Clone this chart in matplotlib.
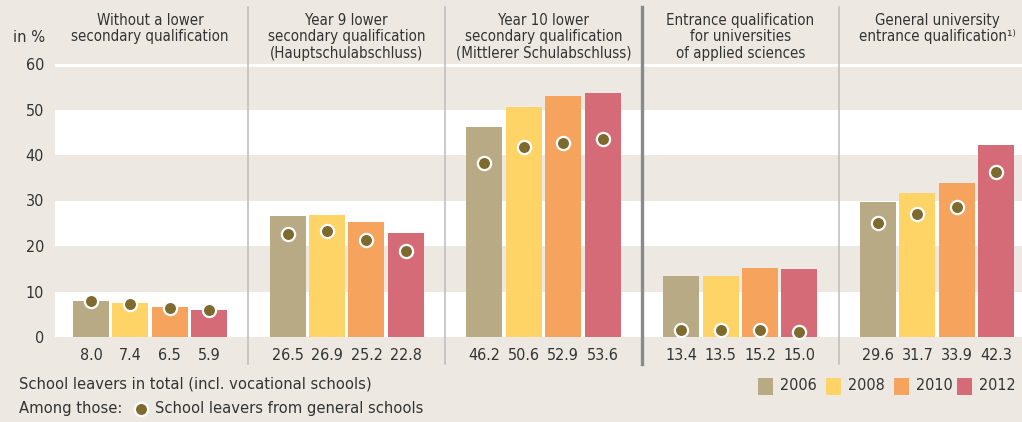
import matplotlib
matplotlib.use("Agg")
import matplotlib.pyplot as plt
from matplotlib.patches import Rectangle
from matplotlib.lines import Line2D

# ---- data
groups = [
    "Without a lower\nsecondary qualification",
    "Year 9 lower\nsecondary qualification\n(Hauptschulabschluss)",
    "Year 10 lower\nsecondary qualification\n(Mittlerer Schulabschluss)",
    "Entrance qualification\nfor universities\nof applied sciences",
    "General university\nentrance qualification\u00b9\u207e",
]
years = ["2006", "2008", "2010", "2012"]
total = [
    [8.0, 7.4, 6.5, 5.9],
    [26.5, 26.9, 25.2, 22.8],
    [46.2, 50.6, 52.9, 53.6],
    [13.4, 13.5, 15.2, 15.0],
    [29.6, 31.7, 33.9, 42.3],
]
general = [
    [7.9, 7.3, 6.4, 5.9],
    [22.6, 23.3, 21.3, 18.8],
    [38.2, 41.8, 42.6, 43.5],
    [1.6, 1.5, 1.6, 1.2],
    [25.0, 27.0, 28.6, 36.3],
]
yticks = [0, 10, 20, 30, 40, 50, 60]

# ---- styles
colors = ["#b8aa85", "#fed466", "#f6a35e", "#d66b78"]
dot_color = "#7e6a2f"
bg = "#ede9e2"
txt = "#333333"
W, H = 1022, 422

plt.rcParams["font.family"] = ["DejaVu Sans"]
plt.rcParams["font.stretch"] = "condensed"

fig = plt.figure(figsize=(W / 100, H / 100), dpi=100, facecolor=bg)


def fx(px):
    return px / W


def fy(py):
    return 1 - py / H


ax = fig.add_axes([fx(55), fy(337), fx(1022) - fx(55), fy(64) - fy(337)])
ax.set_facecolor(bg)
for s in ax.spines.values():
    s.set_visible(False)

# white bands
for lo in (0, 20, 40):
    ax.axhspan(lo, lo + 10, color="white", lw=0, zorder=0)
ax.axhline(60, color="white", lw=3.5, zorder=0)

ax.set_xlim(-0.483, 4.432)
ax.set_ylim(0, 60)
ax.set_yticks(yticks)
ax.set_yticklabels([str(t) for t in yticks], fontsize=11.5, color=txt)
ax.tick_params(axis="y", length=0, pad=8)
ax.set_xticks([])

step = 0.2
bw = 0.183
for g in range(len(groups)):
    for k in range(len(years)):
        x = g + (k - 1.5) * step
        ax.bar(x, total[g][k], width=bw, color=colors[k], lw=0, zorder=2)
        ax.plot(x, general[g][k], "o", ms=9.5, mfc=dot_color, mec="white",
                mew=1.6, zorder=3, clip_on=False)
        ax.text(x, -4.0, f"{total[g][k]:.1f}", ha="center", va="center",
                fontsize=11.5, color=txt, clip_on=False)
    ax.text(g, 71.25, groups[g], ha="center", va="top", fontsize=10.8,
            color=txt, linespacing=1.12, clip_on=False)

# dividers
for g in range(4):
    thick = g == 2
    fig.add_artist(Line2D([fx(150 + (g + 0.5) * 196.75)] * 2, [fy(7), fy(364)],
                          color="#8a8a8a" if thick else "#bcbcbc",
                          lw=2.4 if thick else 1.1))

fig.text(fx(45), fy(38), "in %", ha="right", va="center", fontsize=11.8, color=txt)

# legend
fig.text(fx(19), fy(384), "School leavers in total (incl. vocational schools)",
         ha="left", va="center", fontsize=11.8, color=txt)
fig.text(fx(19), fy(409), "Among those:", ha="left", va="center",
         fontsize=11.8, color=txt)
fig.add_artist(Line2D([fx(141)], [fy(409)], marker="o", ms=9.5, mfc=dot_color,
                      mec="white", mew=1.6))
fig.text(fx(155), fy(409), "School leavers from general schools", ha="left",
         va="center", fontsize=11.8, color=txt)

sq_x = [758, 826, 894, 957]
for k, yr in enumerate(years):
    fig.add_artist(Rectangle((fx(sq_x[k]), fy(395)), fx(15), fy(378) - fy(395),
                             color=colors[k], lw=0, transform=fig.transFigure))
    fig.text(fx(sq_x[k] + 22), fy(386), yr, ha="left", va="center",
             fontsize=11.5, color=txt)

fig.savefig("out.png", dpi=100, facecolor=bg)
